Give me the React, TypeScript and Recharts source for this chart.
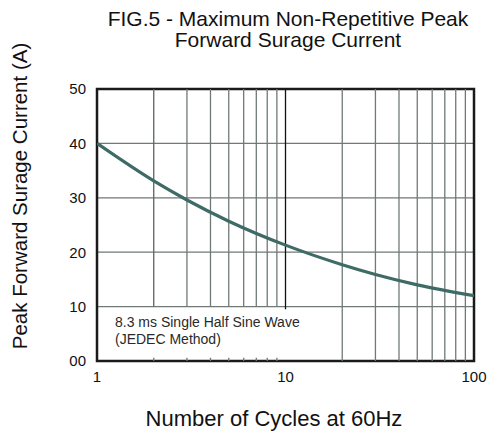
import {
  LineChart,
  Line,
  XAxis,
  YAxis,
  CartesianGrid,
  ReferenceLine,
  ReferenceArea,
} from "recharts";

// surge current vs number of cycles
const cycles = [1, 2, 3, 5, 10, 20, 30, 50, 100];
const current = [40, 33.1, 29.6, 25.7, 21.3, 17.7, 15.9, 14.0, 12.0];

const xTicks = [1, 10, 100];
const yTicks = [0, 10, 20, 30, 40, 50];
// lines under 10 cycles stop at the 10 A line (note box below)
const lowLines = [2, 3, 4, 5, 6, 7, 8, 9];
const highLines = [20, 30, 40, 50, 60, 70, 80, 90];

const data = cycles.map((c, i) => ({ cycles: c, current: current[i] }));

const FONT = '"Liberation Sans", Arial, sans-serif';
const GRID = "#6f7975";

export default function App() {
  return (
    <div style={{ position: "absolute", left: 0, top: 0, width: 489, height: 433, background: "#fff", fontFamily: FONT }}>
      <LineChart
        width={489}
        height={433}
        data={data}
        margin={{ top: 89, right: 15, bottom: 0, left: 0 }}
        style={{ position: "absolute", left: 0, top: 0 }}
      >
        <CartesianGrid vertical={false} stroke={GRID} strokeWidth={1.3} />
        {highLines.map((v) => (
          <ReferenceLine key={v} x={v} stroke={GRID} strokeWidth={1.3} />
        ))}
        {lowLines.map((v) => (
          <ReferenceLine
            key={"u" + v}
            segment={[{ x: v, y: 10 }, { x: v, y: 50 }]}
            stroke={v === 2 ? "#5a6360" : GRID}
            strokeWidth={1.3}
          />
        ))}
        {lowLines.map((v) => (
          <ReferenceLine
            key={"t" + v}
            segment={[{ x: v, y: 0 }, { x: v, y: 0.6 }]}
            stroke={GRID}
            strokeWidth={1.3}
          />
        ))}
        <ReferenceLine segment={[{ x: 10, y: 9.5 }, { x: 10, y: 50 }]} stroke="#111" strokeWidth={1.3} />
        <XAxis
          dataKey="cycles"
          type="number"
          scale="log"
          domain={[1, 100]}
          ticks={xTicks}
          allowDataOverflow
          height={72}
          axisLine={false}
          tickLine={false}
          tickMargin={4}
          tick={{ fill: "#111", fontSize: 15, fontFamily: FONT }}
        />
        <YAxis
          type="number"
          domain={[0, 50]}
          ticks={yTicks}
          width={97}
          axisLine={false}
          tickLine={false}
          tickMargin={5}
          tickFormatter={(v) => (v === 0 ? "00" : String(v))}
          tick={{ fill: "#111", fontSize: 15, fontFamily: FONT }}
        />
        <ReferenceArea x1={1} x2={100} y1={0} y2={50} fill="none" stroke="#1a1a1a" strokeWidth={2.5} />
        <Line
          dataKey="current"
          type="monotone"
          stroke="#3f6b66"
          strokeWidth={3.2}
          dot={false}
          isAnimationActive={false}
        />
      </LineChart>
      <div style={{ position: "absolute", left: 88, width: 400, top: 8, textAlign: "center", fontSize: 21, lineHeight: "21px", color: "#111" }}>
        FIG.5 - Maximum Non-Repetitive Peak
        <br />
        Forward Surage Current
      </div>
      <div
        style={{
          position: "absolute",
          left: 20,
          top: 196,
          transform: "translate(-50%, -50%) rotate(-90deg)",
          whiteSpace: "nowrap",
          fontSize: 20.5,
          color: "#111",
        }}
      >
        Peak Forward Surage Current (A)
      </div>
      <div style={{ position: "absolute", left: 74, width: 400, top: 407, lineHeight: "24px", textAlign: "center", fontSize: 22, color: "#111" }}>
        Number of Cycles at 60Hz
      </div>
      <div style={{ position: "absolute", left: 115, top: 314, fontSize: 14, lineHeight: "17px", color: "#2a2a2a", whiteSpace: "nowrap" }}>
        8.3 ms Single Half Sine Wave
        <br />
        (JEDEC Method)
      </div>
    </div>
  );
}
